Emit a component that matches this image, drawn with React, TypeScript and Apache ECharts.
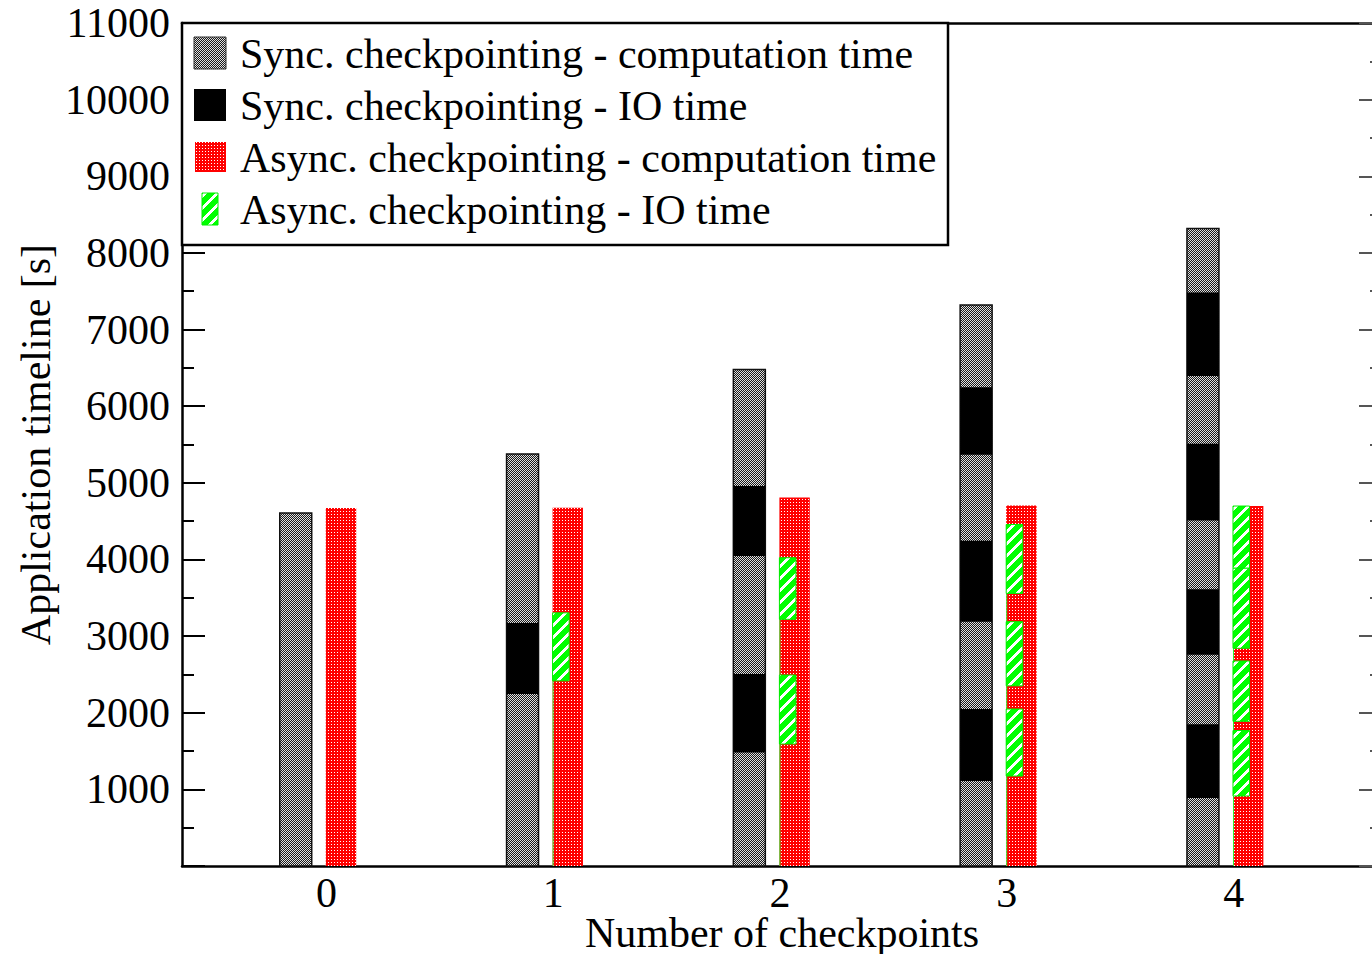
import React, { useEffect, useRef } from "react";
import * as echarts from "echarts";

const checkpoints = [0, 1, 2, 3, 4];
const yMax = 11000;
const yStep = 1000;

const syncTotal = [4605, 5375, 6480, 7320, 8320];
const syncIO: number[][][] = [
  [],
  [[2245, 3172]],
  [[1480, 2505], [4045, 4958]],
  [[1110, 2048], [3188, 4245], [5367, 6247]],
  [[888, 1850], [2758, 3612], [4509, 5511], [6393, 7482]],
];
const asyncTotal = [4671, 4675, 4810, 4703, 4697];
const asyncIO: number[][][] = [
  [],
  [[2416, 3303]],
  [[1592, 2492], [3219, 4022]],
  [[1174, 2048], [2351, 3188], [3557, 4456]],
  [[914, 1768], [1888, 2675], [2841, 3888], [3888, 4697]],
];

const legendLabels = [
  "Sync. checkpointing - computation time",
  "Sync. checkpointing - IO time",
  "Async. checkpointing - computation time",
  "Async. checkpointing - IO time",
];

const FONT = "'Liberation Serif', 'Times New Roman', serif";
const FS = 42;

function makePattern(w: number, h: number, draw: (ctx: CanvasRenderingContext2D) => void) {
  const c = document.createElement("canvas");
  c.width = w;
  c.height = h;
  const ctx = c.getContext("2d")!;
  draw(ctx);
  return { image: c.toDataURL(), repeat: "repeat", imageWidth: w, imageHeight: h } as any;
}

export default function App() {
  const ref = useRef<HTMLDivElement>(null);

  useEffect(() => {
    document.body.style.margin = "0";
    document.body.style.overflow = "hidden";
    if (!ref.current) return;
    const chart = echarts.init(ref.current, undefined, { renderer: "svg" });

    const grayPat = makePattern(2, 2, (ctx) => {
      ctx.fillStyle = "#1a1a1a";
      ctx.fillRect(0, 0, 2, 2);
      ctx.fillStyle = "#e0e0e0";
      ctx.fillRect(0, 0, 1, 1);
      ctx.fillRect(1, 1, 1, 1);
    });
    const redPat = makePattern(3, 3, (ctx) => {
      ctx.fillStyle = "#ff0000";
      ctx.fillRect(0, 0, 3, 3);
      ctx.fillStyle = "#ffffff";
      ctx.fillRect(1, 1, 1, 1);
    });
    const greenPat = makePattern(12, 12, (ctx) => {
      for (let x = 0; x < 12; x++) {
        for (let y = 0; y < 12; y++) {
          ctx.fillStyle = (x + y) % 12 < 4 ? "#ffffff" : "#00ff00";
          ctx.fillRect(x, y, 1, 1);
        }
      }
    });

    const syncCompData = checkpoints.map((c, i) => [c, 0, syncTotal[i]]);
    const syncIOData: number[][] = [];
    checkpoints.forEach((c, i) => syncIO[i].forEach((s) => syncIOData.push([c, s[0], s[1]])));
    const asyncCompData = checkpoints.map((c, i) => [c, 0, asyncTotal[i]]);
    const asyncIOData: number[][] = [];
    checkpoints.forEach((c, i) => asyncIO[i].forEach((s) => asyncIOData.push([c, s[0], s[1]])));
    const asyncEdgeData = checkpoints
      .map((c, i) => (asyncIO[i].length ? [c, 0, Math.max(...asyncIO[i].map((s) => s[1]))] : null))
      .filter(Boolean) as number[][];

    const SYNC_OFF = -0.206, SYNC_W = 0.141;
    const ASYNC_OFF = -0.003, ASYNC_W = 0.134, IO_W = 0.073;

    const rectItem = (off: number, w: number, style: any) => (params: any, api: any) => {
      const x = api.value(0);
      const a = api.value(1);
      const b = api.value(2);
      const unit = api.size([1, 0])[0];
      const pa = api.coord([x, a]);
      const pb = api.coord([x, b]);
      return {
        type: "rect",
        shape: { x: pa[0] + off * unit, y: pb[1], width: w * unit, height: pa[1] - pb[1] },
        style,
      };
    };

    const edgeItem = (params: any, api: any) => {
      const x = api.value(0);
      const unit = api.size([1, 0])[0];
      const pa = api.coord([x, api.value(1)]);
      const pb = api.coord([x, api.value(2)]);
      const xx = pa[0] + ASYNC_OFF * unit + 0.5;
      return {
        type: "line",
        shape: { x1: xx, y1: pa[1], x2: xx, y2: pb[1] },
        style: { stroke: "#33ee33", lineWidth: 1 },
      };
    };

    const axisFont = { fontFamily: FONT, fontSize: FS, color: "#000" };

    const rowY = [53, 105, 157, 209];
    const legendGraphics: any[] = [
      {
        type: "rect",
        z: 100,
        shape: { x: 182, y: 23, width: 766, height: 222 },
        style: { fill: "#fff", stroke: "#000", lineWidth: 2.5 },
      },
      { type: "rect", z: 101, shape: { x: 194, y: rowY[0] - 16, width: 32, height: 32 }, style: { fill: grayPat, stroke: "#333", lineWidth: 1 } },
      { type: "rect", z: 101, shape: { x: 194, y: rowY[1] - 16, width: 32, height: 32 }, style: { fill: "#000" } },
      { type: "rect", z: 101, shape: { x: 195, y: rowY[2] - 15, width: 31, height: 30 }, style: { fill: redPat } },
      { type: "rect", z: 101, shape: { x: 202, y: rowY[3] - 16, width: 16, height: 32 }, style: { fill: greenPat, stroke: "#00ee00", lineWidth: 1 } },
      ...legendLabels.map((t, i) => ({
        type: "text",
        z: 101,
        x: 240,
        y: rowY[i] + 1,
        style: { text: t, font: `${FS}px ${FONT}`, fill: "#000", verticalAlign: "middle", align: "left" },
      })),
    ];

    chart.setOption({
      animation: false,
      backgroundColor: "#fff",
      grid: { left: 182, top: 23, width: 1200, height: 843, containLabel: false, outerBoundsMode: "none" } as any,
      xAxis: [
        {
          type: "value",
          position: "bottom",
          min: -0.637,
          max: 4.654,
          axisLine: { show: true, onZero: false, lineStyle: { color: "#000", width: 2.5 } },
          axisTick: { show: false },
          splitLine: { show: false },
          axisLabel: { ...axisFont, lineHeight: 30, margin: 12, customValues: checkpoints, formatter: (v: number) => String(v) },
          name: "Number of checkpoints",
          nameLocation: "middle",
          nameGap: 53,
          nameMoveOverlap: false,
          nameTextStyle: { ...axisFont, lineHeight: 28 },
        } as any,
        {
          type: "value",
          position: "top",
          min: -0.637,
          max: 4.654,
          axisLine: { show: true, onZero: false, lineStyle: { color: "#000", width: 2.5 } },
          axisTick: { show: false },
          axisLabel: { show: false },
          splitLine: { show: false },
        },
      ],
      yAxis: [
        {
          type: "value",
          position: "left",
          min: 0,
          max: yMax,
          interval: yStep,
          axisLine: { show: true, onZero: false, lineStyle: { color: "#000", width: 2.5 } },
          axisTick: { show: true, inside: true, length: 23, lineStyle: { color: "#000", width: 2 } },
          minorTick: { show: true, splitNumber: 2, length: 12, lineStyle: { color: "#000", width: 2 } },
          splitLine: { show: false },
          axisLabel: { ...axisFont, margin: 12, formatter: (v: number) => (v === 0 ? "" : String(v)) },
          name: "Application timeline [s]",
          nameLocation: "middle",
          nameGap: 125,
          nameMoveOverlap: false,
          nameTextStyle: { ...axisFont },
        } as any,
        {
          type: "value",
          position: "right",
          min: 0,
          max: yMax,
          interval: yStep,
          axisLine: { show: true, onZero: false, lineStyle: { color: "#000", width: 2.5 } },
          axisTick: { show: true, inside: true, length: 23, lineStyle: { color: "#555", width: 2 } },
          minorTick: { show: true, splitNumber: 2, length: 12, lineStyle: { color: "#555", width: 2 } },
          splitLine: { show: false },
          axisLabel: { show: false },
        },
      ],
      series: [
        {
          type: "custom",
          name: legendLabels[0],
          data: syncCompData,
          encode: { x: 0, y: [1, 2] },
          renderItem: rectItem(SYNC_OFF, SYNC_W, { fill: grayPat, stroke: "#111", lineWidth: 1.5 }),
          z: 2,
        },
        {
          type: "custom",
          name: legendLabels[1],
          data: syncIOData,
          encode: { x: 0, y: [1, 2] },
          renderItem: rectItem(SYNC_OFF, SYNC_W, { fill: "#000" }),
          z: 3,
        },
        {
          type: "custom",
          name: legendLabels[2],
          data: asyncCompData,
          encode: { x: 0, y: [1, 2] },
          renderItem: rectItem(ASYNC_OFF, ASYNC_W, { fill: redPat }),
          z: 2,
        },
        {
          type: "custom",
          name: "edge",
          data: asyncEdgeData,
          encode: { x: 0, y: [1, 2] },
          renderItem: edgeItem,
          z: 3,
        },
        {
          type: "custom",
          name: legendLabels[3],
          data: asyncIOData,
          encode: { x: 0, y: [1, 2] },
          renderItem: rectItem(ASYNC_OFF, IO_W, { fill: greenPat, stroke: "#00ee00", lineWidth: 1 }),
          z: 4,
        },
      ],
      graphic: legendGraphics,
    });

    return () => chart.dispose();
  }, []);

  return <div ref={ref} style={{ width: 1372, height: 954 }} />;
}
